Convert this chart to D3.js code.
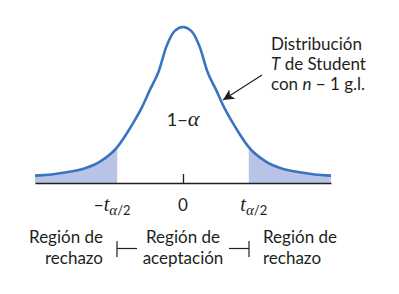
<!DOCTYPE html>
<html>
<head>
<meta charset="utf-8">
<script src="https://cdn.jsdelivr.net/npm/d3@7"></script>
<style>
	body { margin: 0; background: #fff; }
	svg { display: block; }
	text { font-family: Lato, "Open Sans", sans-serif; fill: #231f20; }
</style>
</head>
<body>
<svg width="399" height="294"></svg>
<script>
// t values (right half) and curve heights
const tGrid = [0, 0.25, 0.5, 0.75, 1.0, 1.25, 1.5, 1.75, 2.0, 2.5, 3.0, 3.5, 4.0, 4.5];
const density = [0.400, 0.390, 0.351, 0.284, 0.240, 0.194, 0.156, 0.122, 0.092, 0.056, 0.037, 0.028, 0.022, 0.019];
const critical = 2;
const tickValues = [-critical, 0, critical];
const regionLabels = [['Región de', 'rechazo'], ['Región de', 'aceptación'], ['Región de', 'rechazo']];
const curveLabel = ['Distribución', 'T de Student', 'con n − 1 g.l.'];

// mirror to get the full symmetric curve
const points = tGrid.slice(1).reverse().map((t, i) => ({ t: -t, f: density[tGrid.length - 1 - i] }))
	.concat(tGrid.map((t, i) => ({ t: t, f: density[i] })));

const svg = d3.select('svg');
const x = d3.scaleLinear().domain([-4.5, 4.5]).range([35, 331]);
const y = d3.scaleLinear().domain([0, 0.4]).range([183, 27]);

const area = d3.area().x((d) => x(d.t)).y0(y(0)).y1((d) => y(d.f)).curve(d3.curveMonotoneX);
const line = d3.line().x((d) => x(d.t)).y((d) => y(d.f)).curve(d3.curveMonotoneX);

// rejection regions
svg.append('path').datum(points.filter((d) => d.t <= -critical)).attr('d', area).attr('fill', '#b9c3e5');
svg.append('path').datum(points.filter((d) => d.t >= critical)).attr('d', area).attr('fill', '#b9c3e5');

svg.append('path').datum(points).attr('d', line)
	.attr('fill', 'none').attr('stroke', '#3a73c0').attr('stroke-width', 2.6);

// axis with the single tick at 0
const axis = svg.append('g').attr('transform', `translate(0, ${y(0)})`)
	.call(d3.axisBottom(x).tickValues([0]).tickSizeInner(-9).tickSizeOuter(0).tickFormat(''));
axis.select('.domain').attr('stroke', '#231f20').attr('stroke-width', 1.3);
axis.selectAll('.tick line').attr('stroke', '#231f20').attr('stroke-width', 1.3);

// tick labels
const tickText = svg.append('g');
tickValues.forEach((v) => {
	const t = tickText.append('text').attr('y', 211).attr('font-size', 17);
	if (v === 0) {
		t.attr('x', x(v)).attr('text-anchor', 'middle').text('0');
	} else {
		t.attr('x', x(v) + (v < 0 ? -5 : 5)).attr('text-anchor', 'middle');
		if (v < 0) t.append('tspan').text('−');
		t.append('tspan').attr('font-family', '"Liberation Serif", serif').attr('font-style', 'italic').attr('font-size', 20).text('t');
		t.append('tspan').attr('dy', 4).attr('font-family', '"Liberation Serif", serif').attr('font-style', 'italic').attr('font-size', 15).text('α');
		t.append('tspan').attr('font-size', 13).text('/2');
	}
});

// 1 - alpha
const ca = svg.append('text').attr('x', x(0)).attr('y', 126).attr('text-anchor', 'middle').attr('font-size', 18);
ca.append('tspan').text('1−');
ca.append('tspan').attr('font-family', '"Liberation Serif", serif').attr('font-style', 'italic').attr('font-size', 22).text('α');

// region labels
const regionX = [103, 183, 263];
const anchors = ['end', 'middle', 'start'];
regionLabels.forEach((lines, i) => {
	lines.forEach((s, j) => {
		svg.append('text').attr('x', regionX[i]).attr('y', 243 + j * 21)
			.attr('text-anchor', anchors[i]).attr('font-size', 17).text(s);
	});
});

// brackets between regions
const bracket = svg.append('g').attr('stroke', '#231f20').attr('stroke-width', 1.2);
bracket.append('line').attr('x1', 117).attr('x2', 117).attr('y1', 241).attr('y2', 257);
bracket.append('line').attr('x1', 117).attr('x2', 137).attr('y1', 248.5).attr('y2', 248.5);
bracket.append('line').attr('x1', 249).attr('x2', 249).attr('y1', 241).attr('y2', 257);
bracket.append('line').attr('x1', 229).attr('x2', 249).attr('y1', 248.5).attr('y2', 248.5);

// curve annotation
const lbl = svg.append('g');
curveLabel.forEach((s, i) => {
	const t = lbl.append('text').attr('x', 271).attr('y', 50 + i * 20).attr('font-size', 17);
	if (i === 1) {
		t.append('tspan').attr('font-style', 'italic').text('T');
		t.append('tspan').text(' de Student');
	} else if (i === 2) {
		t.append('tspan').text('con ');
		t.append('tspan').attr('font-style', 'italic').text('n');
		t.append('tspan').text(' − 1 g.l.');
	} else {
		t.text(s);
	}
});

svg.append('defs').append('marker').attr('id', 'head').attr('viewBox', '0 0 10 10')
	.attr('refX', 10).attr('refY', 5).attr('markerWidth', 11).attr('markerHeight', 11)
	.attr('markerUnits', 'userSpaceOnUse').attr('orient', 'auto')
	.append('path').attr('d', 'M0,0 L10,5 L0,10 L2.5,5 Z').attr('fill', '#231f20');
svg.append('line').attr('x1', 262).attr('y1', 75).attr('x2', 223).attr('y2', 100)
	.attr('stroke', '#231f20').attr('stroke-width', 1.2).attr('marker-end', 'url(#head)');
</script>
</body>
</html>
